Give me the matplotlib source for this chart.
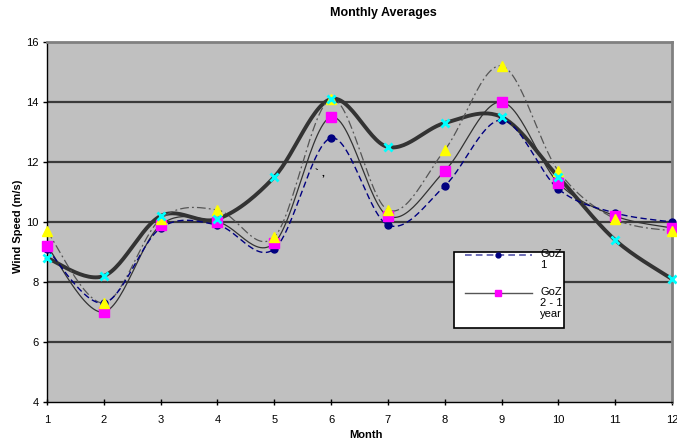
"""Monthly Averages: wind speed per month for four runs, Excel-style smoothed lines."""
import numpy as np
import matplotlib
matplotlib.use("Agg")
import matplotlib.pyplot as plt
from matplotlib.lines import Line2D
from matplotlib.patches import Rectangle

plt.rcParams.update({"font.family": ["Liberation Sans", "DejaVu Sans"], "font.size": 8})

MONTHS = [1, 2, 3, 4, 5, 6, 7, 8, 9, 10, 11, 12]
GOZ_1 = [9.1, 7.3, 9.8, 9.9, 9.1, 12.8, 9.9, 11.2, 13.4, 11.1, 10.3, 10.0]
GOZ_2_1Y = [9.2, 7.0, 9.9, 10.0, 9.3, 13.5, 10.2, 11.7, 14.0, 11.3, 10.2, 9.8]
SERIES_3 = [9.7, 7.3, 10.1, 10.4, 9.5, 14.1, 10.4, 12.4, 15.2, 11.7, 10.1, 9.7]
SERIES_4 = [8.8, 8.2, 10.2, 10.1, 11.5, 14.1, 12.5, 13.3, 13.5, 11.5, 9.4, 8.1]


def smooth(xs, ys, n=30):
    # Excel "smoothed line": bezier segments with catmull-rom control points
    p = np.column_stack([xs, ys]).astype(float)
    p = np.vstack([p[0], p, p[-1]])
    t = np.linspace(0, 1, n)[:, None]
    out = []
    for i in range(1, len(p) - 2):
        p0, p1, p2, p3 = p[i - 1], p[i], p[i + 1], p[i + 2]
        c1 = p1 + (p2 - p0) / 6
        c2 = p2 - (p3 - p1) / 6
        seg = ((1 - t) ** 3) * p1 + 3 * ((1 - t) ** 2) * t * c1 \
            + 3 * (1 - t) * t ** 2 * c2 + t ** 3 * p2
        out.append(seg if i == 1 else seg[1:])
    out = np.vstack(out)
    return out[:, 0], out[:, 1]


fig = plt.figure(figsize=(6.77, 4.43), dpi=100)
ax = fig.add_axes([47 / 677, 1 - 402 / 443, 625 / 677, 360 / 443])
ax.set_facecolor("#C0C0C0")
ax.set_xlim(1, 12)
ax.set_ylim(4, 16)
ax.set_xticks(MONTHS)
ax.set_yticks(range(4, 17, 2))
for g in range(6, 16, 2):
    ax.axhline(g, color="#3A3A3A", lw=1.6, zorder=1)

for s in ("top", "right"):
    ax.spines[s].set_color("#808080")
    ax.spines[s].set_linewidth(2)
for s in ("left", "bottom"):
    ax.spines[s].set_color("black")
    ax.spines[s].set_linewidth(1)
ax.tick_params(axis="y", direction="out", length=3, width=1, pad=3, labelsize=8)
ax.tick_params(axis="x", direction="inout", length=5, width=1, pad=7, labelsize=8)

# thick series with cyan crosses
x, y = smooth(MONTHS, SERIES_4)
ax.plot(x, y, color="#333333", lw=2.8, zorder=3, clip_on=False)
# dash-dot series with yellow triangles
x, y = smooth(MONTHS, SERIES_3)
ax.plot(x, y, color="#555555", lw=0.9, ls=(0, (7, 2.5, 1.5, 2.5)), zorder=3, clip_on=False)
# thin solid, GoZ 2 - 1 year
x, y = smooth(MONTHS, GOZ_2_1Y)
ax.plot(x, y, color="#333333", lw=0.9, zorder=3, clip_on=False)
# dashed navy, GoZ 1
x, y = smooth(MONTHS, GOZ_1)
ax.plot(x, y, color="#000080", lw=1.0, ls=(0, (4.5, 2.5)), zorder=3, clip_on=False)

ax.plot(MONTHS, GOZ_1, ls="none", marker="o", ms=5, color="#000080", zorder=4, clip_on=False)
ax.plot(MONTHS, GOZ_2_1Y, ls="none", marker="s", ms=6.5, color="#FF00FF", zorder=5, clip_on=False)
ax.plot(MONTHS, SERIES_3, ls="none", marker="^", ms=6.5, color="#FFFF00", zorder=6, clip_on=False)
ax.plot(MONTHS, SERIES_4, ls="none", marker="x", ms=5.5, mew=2, color="#00FFFF", zorder=7,
        clip_on=False)

ax.text(5.8, 11.6, "` ,", fontsize=8, fontweight="bold", ha="center", va="center", zorder=4)

# legend box drawn by hand so the lines sit on the first text line
ax.add_patch(Rectangle((0.651, 0.206), 0.176, 0.212, transform=ax.transAxes,
                       facecolor="white", edgecolor="black", lw=1.2, zorder=8))
ax.add_line(Line2D([0.669, 0.776], [0.409, 0.409], transform=ax.transAxes, color="#5555AA",
                   lw=1.2, ls=(0, (4, 2.5)), zorder=9))
ax.add_line(Line2D([0.7216], [0.409], transform=ax.transAxes, marker="o", ms=3.5,
                   color="#000080", zorder=10))
ax.add_line(Line2D([0.669, 0.776], [0.304, 0.304], transform=ax.transAxes, color="#555555",
                   lw=1.0, zorder=9))
ax.add_line(Line2D([0.7216], [0.304], transform=ax.transAxes, marker="s", ms=4,
                   color="#FF00FF", zorder=10))
ax.text(0.789, 0.424, "GoZ\n1", transform=ax.transAxes, va="top", ha="left", fontsize=8,
        linespacing=1.1, zorder=10)
ax.text(0.789, 0.32, "GoZ\n2 - 1\nyear", transform=ax.transAxes, va="top", ha="left",
        fontsize=8, linespacing=1.15, zorder=10)

fig.text(383 / 677, 1 - 13 / 443, "Monthly Averages", ha="center", va="center",
         fontsize=9, fontweight="bold")
fig.text(366 / 677, 1 - 435 / 443, "Month", ha="center", va="center", fontsize=8,
         fontweight="bold")
fig.text(0.027, 1 - 226 / 443, "Wind Speed (m/s)", ha="center", va="center", rotation=90,
         fontsize=8, fontweight="bold")

fig.savefig("out.png", dpi=100)
